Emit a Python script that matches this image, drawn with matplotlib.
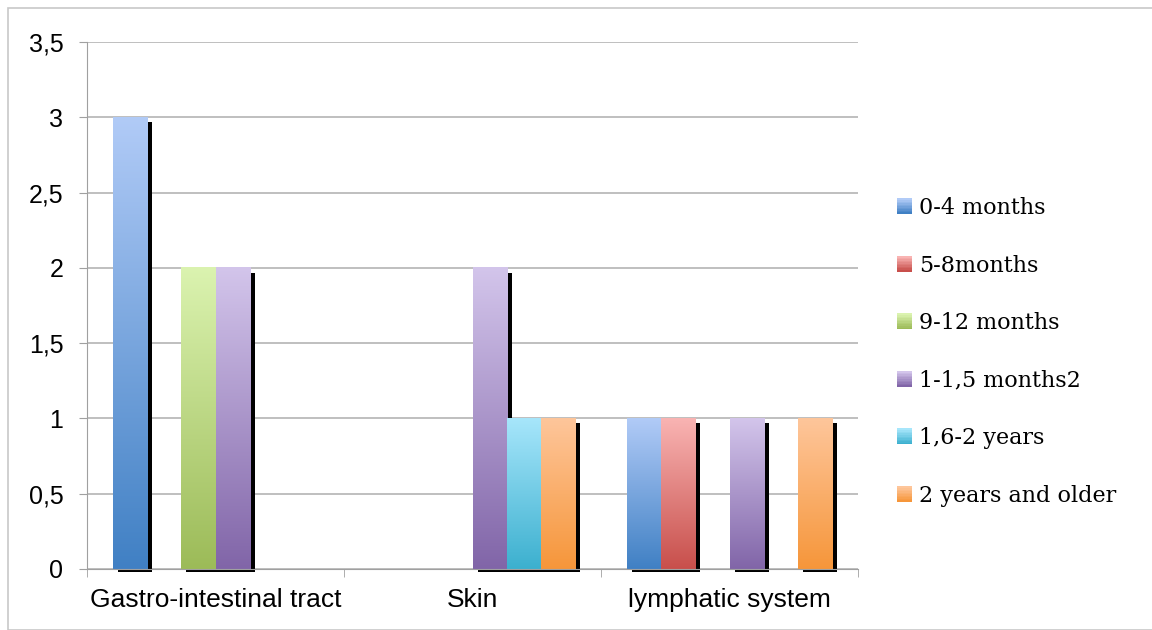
import numpy as np
import matplotlib
matplotlib.use("Agg")
import matplotlib.pyplot as plt
from matplotlib.colors import LinearSegmentedColormap
from matplotlib.patches import Rectangle
from matplotlib.legend_handler import HandlerBase
from matplotlib.transforms import offset_copy, Bbox

# data #
categories = ["Gastro-intestinal tract", "Skin", "lymphatic system"]
series = ["0-4 months", "5-8months", "9-12 months", "1-1,5 months2", "1,6-2 years", "2 years and older"]
values = [
    [3, 0, 1],   # 0-4 months
    [0, 0, 1],   # 5-8months
    [2, 0, 0],   # 9-12 months
    [2, 2, 1],   # 1-1,5 months2
    [0, 1, 0],   # 1,6-2 years
    [0, 1, 1],   # 2 years and older
]
yticks = [0, 0.5, 1, 1.5, 2, 2.5, 3, 3.5]
ytick_labels = ["0", "0,5", "1", "1,5", "2", "2,5", "3", "3,5"]

# gradient colours (bottom, top) #
grads = [
    ("#4080c4", "#b1cbf7"),
    ("#c84f4b", "#f9b4b3"),
    ("#9cbb58", "#dbf3b0"),
    ("#8165a8", "#d3c5eb"),
    ("#3cb0cf", "#a7e6fb"),
    ("#f6963a", "#fec69b"),
]
cmaps = [LinearSegmentedColormap.from_list("g%d" % i, list(g)) for i, g in enumerate(grads)]

# figure #
W, H = 1152, 630
fig = plt.figure(figsize=(W / 100, H / 100), dpi=100)
fig.patches.append(Rectangle((8 / W, 0), 1.2, 1 - 8 / H, transform=fig.transFigure,
                             fill=False, edgecolor="#c8c8c8", linewidth=1.2))
ax = fig.add_axes([87 / W, 61 / H, (858 - 87) / W, (569 - 42) / H])

n = len(series)
bw = 1.0 / (n + 1.5)
grad = np.linspace(0, 1, 256).reshape(-1, 1)

ab = ax.bbox.extents
clip = Bbox.from_extents(ab[0], ab[1] - 2.5, ab[2] + 10, ab[3])
shadow_tr = offset_copy(ax.transData, fig=fig, x=5, y=-5, units="dots")

for s in range(n):
    for c in range(len(categories)):
        h = values[s][c]
        if h <= 0:
            continue
        x0 = c - n * bw / 2 + s * bw
        sh = Rectangle((x0, 0), bw, h, transform=shadow_tr, facecolor="black",
                       edgecolor="none", zorder=2)
        ax.add_patch(sh)
        sh.set_clip_box(clip)
        ax.imshow(grad, extent=[x0, x0 + bw, 0, h], origin="lower", cmap=cmaps[s],
                  aspect="auto", interpolation="bicubic", zorder=3)

ax.set_xlim(-0.5, len(categories) - 0.5)
ax.set_ylim(0, 3.5)

# axes styling #
for side in ["top", "right"]:
    ax.spines[side].set_visible(False)
ax.spines["left"].set_color("#a0a0a0")
ax.spines["bottom"].set_color("#a0a0a0")
ax.spines["left"].set_zorder(4)
ax.spines["bottom"].set_zorder(4)
ax.set_yticks(yticks)
ax.set_yticklabels(ytick_labels, fontsize=18, family=["Liberation Sans", "DejaVu Sans"])
ax.tick_params(axis="y", length=6, color="#a0a0a0", pad=11)
ax.yaxis.grid(True, color="#b4b4b4", linewidth=1.2, zorder=1)
ax.set_axisbelow(True)

ax.set_xticks(range(len(categories)))
ax.set_xticklabels(categories, fontsize=19, family=["Liberation Sans", "DejaVu Sans"])
ax.tick_params(axis="x", which="major", length=0, pad=14)
ax.set_xticks(np.arange(-0.5, len(categories) + 0.5, 1), minor=True)
ax.tick_params(axis="x", which="minor", length=6, color="#a0a0a0")

# legend with gradient squares #
class GradHandler(HandlerBase):
    def __init__(self, cmap):
        super().__init__()
        self.cmap = cmap

    def create_artists(self, legend, orig_handle, xdescent, ydescent, width, height, fontsize, trans):
        arts = []
        k = 10
        for i in range(k):
            arts.append(Rectangle((-xdescent, -ydescent + height * i / k), width, height / k + 0.3,
                                  facecolor=self.cmap(i / (k - 1)), edgecolor="none", transform=trans))
        return arts

handles = [Rectangle((0, 0), 1, 1) for _ in series]
hmap = {h: GradHandler(cm) for h, cm in zip(handles, cmaps)}
fig.legend(handles, series, handler_map=hmap, loc="center left",
           bbox_to_anchor=(877 / W, 1 - 352 / H), frameon=False,
           prop={"family": ["DejaVu Serif"], "size": 16},
           handlelength=0.68, handleheight=0.68, handletextpad=0.3, labelspacing=1.6)

fig.savefig("out.png", dpi=100)
